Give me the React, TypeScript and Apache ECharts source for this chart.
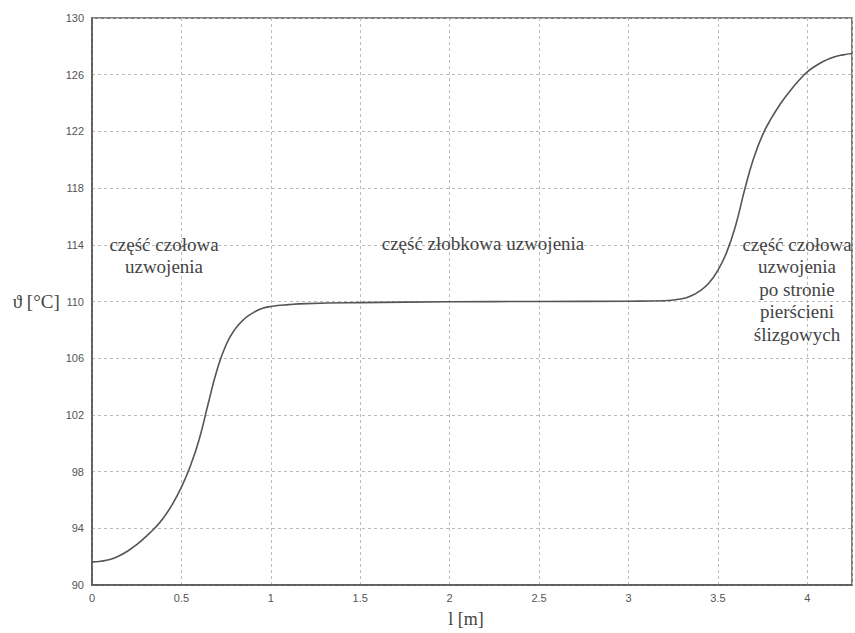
import React, { useEffect, useRef } from "react";
import * as echarts from "echarts";

const lengthM = [0, 0.05, 0.1, 0.15, 0.2, 0.25, 0.3, 0.35, 0.4, 0.45, 0.5, 0.55, 0.6, 0.65, 0.7, 0.75, 0.8, 0.85, 0.9, 0.95, 1.0, 1.1, 1.2, 1.5, 2.0, 2.5, 3.0, 3.2, 3.3, 3.35, 3.4, 3.45, 3.5, 3.55, 3.6, 3.65, 3.7, 3.75, 3.8, 3.85, 3.9, 3.95, 4.0, 4.05, 4.1, 4.15, 4.2, 4.25];
const tempC = [91.63, 91.68, 91.8, 92.05, 92.4, 92.85, 93.4, 94.0, 94.75, 95.7, 96.9, 98.4, 100.3, 102.8, 105.2, 106.95, 108.05, 108.75, 109.2, 109.5, 109.65, 109.78, 109.85, 109.92, 109.98, 110.0, 110.02, 110.05, 110.2, 110.4, 110.75, 111.3, 112.2, 113.5, 115.4, 117.9, 120.1, 121.75, 122.95, 123.95, 124.8, 125.55, 126.2, 126.65, 127.0, 127.25, 127.4, 127.5];

const yAxisName = "ϑ [°C]";
const xAxisName = "l [m]";
const annotLeft = "część czołowa\nuzwojenia";
const annotMid = "część złobkowa uzwojenia";
const annotRight = "część czołowa\nuzwojenia\npo stronie\npierścieni\nślizgowych";

export default function App() {
  const ref = useRef<HTMLDivElement>(null);
  useEffect(() => {
    if (!ref.current) return;
    const chart = echarts.init(ref.current, undefined, { renderer: "svg" });
    const serif = "Liberation Serif";
    const tickFont = "Liberation Sans";
    const annStyle = (text: string, x: number, y: number) => ({
      type: "text",
      x,
      y,
      z: 10,
      style: {
        text,
        fill: "#444",
        fontFamily: serif,
        fontSize: 19,
        textAlign: "center",
        textVerticalAlign: "top",
        lineHeight: 22.5,
      },
    });
    chart.setOption({
      animation: false,
      backgroundColor: "#fff",
      grid: {
        left: 92,
        right: 3,
        top: 18,
        bottom: 43,
        show: true,
        borderColor: "#555",
        borderWidth: 1.5,
        backgroundColor: "transparent",
      },
      xAxis: {
        type: "value",
        min: 0,
        max: 4.25,
        interval: 0.5,
        name: xAxisName,
        nameLocation: "middle",
        nameGap: 25,
        nameTextStyle: { fontFamily: serif, fontSize: 18, color: "#444", padding: [0, 12, 0, 0] },
        axisLine: { show: true, lineStyle: { color: "#555", width: 1.5 } },
        axisTick: { show: false },
        axisLabel: {
          fontFamily: tickFont,
          fontSize: 11,
          color: "#555",
          margin: 7,
          showMaxLabel: false,
        },
        splitLine: { show: true, lineStyle: { color: "#bbb", type: [3, 3], width: 1 } },
      },
      yAxis: {
        type: "value",
        min: 90,
        max: 130,
        interval: 4,
        name: yAxisName,
        nameLocation: "middle",
        nameRotate: 0,
        nameGap: 32,
        nameTextStyle: { fontFamily: serif, fontSize: 19, color: "#444" },
        axisLine: { show: true, lineStyle: { color: "#555", width: 1.5 } },
        axisTick: { show: false },
        axisLabel: { fontFamily: tickFont, fontSize: 11, color: "#555", margin: 8 },
        splitLine: { show: true, lineStyle: { color: "#bbb", type: [3, 3], width: 1 } },
      },
      series: [
        {
          type: "line",
          data: lengthM.map((x, i) => [x, tempC[i]]),
          smooth: 0.5,
          showSymbol: false,
          lineStyle: { color: "#555", width: 1.6 },
          z: 5,
        },
      ],
      graphic: [
        annStyle(annotLeft, 164, 233),
        annStyle(annotMid, 483, 232),
        annStyle(annotRight, 797, 233),
      ],
    });
    return () => chart.dispose();
  }, []);
  return (
    <div
      ref={ref}
      style={{ position: "absolute", left: 0, top: 0, width: 855, height: 633, background: "#fff" }}
    />
  );
}
